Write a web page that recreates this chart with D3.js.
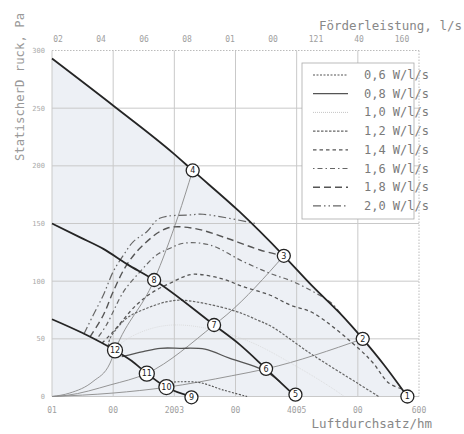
<!DOCTYPE html>
<html>
<head>
<meta charset="utf-8">
<script src="https://cdn.jsdelivr.net/npm/d3@7/dist/d3.min.js"></script>
<style>
  body { margin: 0; background: #fff; }
  svg { display: block; }
  text { font-family: "DejaVu Sans Mono", monospace; }
</style>
</head>
<body>
<svg id="chart" width="464" height="434"></svg>
<script>
// axis ticks and labels (labels as printed on the scan)
const flowTicks = [0, 100, 200, 300, 400, 500, 600];
const flowLabels = ["01", "00", "2003", "00", "4005", "00", "600"];
const pressureTicks = [0, 50, 100, 150, 200, 250, 300];
const pressureLabels = ["0", "50", "100", "150", "200", "250", "300"];
const lpsTicks = [0, 20, 40, 60, 80, 100, 120, 140, 160];
const lpsLabels = ["02", "04", "06", "08", "01", "00", "121", "40", "160"];

// fan curves [m3/h, Pa]
const fanHigh = [[0, 293], [103, 251], [198, 211], [230, 196], [307, 160], [379, 122],
  [427, 95], [471, 72], [508, 50], [542, 28], [581, 0]];
const fanMid = [[0, 150], [46, 138], [84, 128], [122, 115], [167, 101], [265, 62],
  [307, 45], [350, 24], [398, 0]];
const fanLow = [[0, 67], [50, 55], [103, 40], [130, 31], [155, 20], [187, 8], [228, 0]];

// system curves
const sys1 = [[0, 0], [29, 3], [67, 13], [95, 29], [103, 40], [167, 101], [206, 156], [230, 196]];
const sys2 = [[0, 0], [24, 1], [95, 10], [155, 20], [265, 62], [286, 71], [379, 122]];
const sys3 = [[0, 0], [100, 3], [187, 8], [294, 18], [350, 24], [508, 50]];

// specific fan power lines, W/l/s
const sfp06 = [[188, 12], [209, 12.8], [242, 12], [280, 5.6], [319, 0]];
const sfp08 = [[114, 34.5], [149, 38.9], [177, 41.8], [209, 41.8], [250, 41], [291, 33], [345, 23], [373, 12.8]];
const sfp10 = [[100, 41], [130, 52], [170, 60], [210, 62], [270, 57], [330, 46], [400, 26], [450, 10], [478, 0]];
const sfp12 = [[92, 43.8], [95, 50.5], [122, 67.8], [155, 76.5], [188, 82.2], [215, 83.4], [294, 75],
  [335, 66.5], [360, 60.3], [422, 37.5], [501, 11], [534, 0]];
const sfp14 = [[82, 46.4], [100, 56.2], [138, 79.4], [166, 90.9], [193, 98.2], [214, 103.5], [231, 106],
  [275, 102.5], [313, 95.2], [356, 88], [389, 79.4], [427, 72.4], [504, 40.3], [525, 29], [550, 12], [572, 6.5]];
const sfp16 = [[72, 49], [89, 62], [117, 90.9], [144, 108.2], [171, 122.7], [193, 128.5], [215, 132.9],
  [258, 131.4], [313, 116.9], [356, 106.9], [400, 98.2], [458, 80.5], [471, 72.2]];
const sfp18 = [[62, 51.6], [84, 70.7], [100, 90.9], [122, 114], [149, 131.4], [188, 145.9], [231, 145.9],
  [286, 137.2], [340, 127], [372, 122.7]];
const sfp20 = [[52, 54], [67.5, 70.7], [84, 88], [100, 108.2], [117, 122.7], [133, 134.3], [155, 142.9],
  [176, 154.5], [226, 157.4], [247, 158], [333, 150]];

// operating points
const pointIds = [1, 2, 3, 4, 5, 6, 7, 8, 9, 10, 11, 12];
const pointFlow = [581, 508, 379, 230, 398, 350, 265, 167, 228, 187, 155, 103];
const pointPressure = [0, 50, 122, 196, 1.6, 24, 62, 101, -0.7, 8.2, 19.8, 40];

const legendLabels = ["0,6 W/l/s", "0,8 W/l/s", "1,0 W/l/s", "1,2 W/l/s",
  "1,4 W/l/s", "1,6 W/l/s", "1,8 W/l/s", "2,0 W/l/s"];
const sfpSeries = [sfp06, sfp08, sfp10, sfp12, sfp14, sfp16, sfp18, sfp20];

// line styles per legend entry
const sfpStyle = [
  { dash: "2,1.5", color: "#555", w: 1.1 },
  { dash: null, color: "#555", w: 1.3 },
  { dash: "1,1", color: "#d4d4d4", w: 0.7 },
  { dash: "2.5,1.5", color: "#666", w: 1.2 },
  { dash: "3.5,3", color: "#555", w: 1.3 },
  { dash: "1.5,3,5,3", color: "#666", w: 1.2 },
  { dash: "7,4", color: "#555", w: 1.4 },
  { dash: "8,3,1.5,3,1.5,3", color: "#666", w: 1.2 }
];

const svg = d3.select("#chart");
const x = d3.scaleLinear().domain([0, 600]).range([52, 419]);
const y = d3.scaleLinear().domain([0, 300]).range([396.5, 50.5]);
const xTop = d3.scaleLinear().domain([0, 160]).range([58, 402]);

svg.append("defs").append("clipPath").attr("id", "plot")
  .append("rect").attr("x", 52).attr("y", 50.5).attr("width", 367).attr("height", 346);

// shaded working range
svg.append("path")
  .datum(fanHigh)
  .attr("clip-path", "url(#plot)")
  .attr("fill", "#edf0f5")
  .attr("d", d3.area().x(d => x(d[0])).y0(y(0)).y1(d => y(d[1])).curve(d3.curveMonotoneX));

// grid
svg.append("g").selectAll("line").data(flowTicks.slice(0, -1)).join("line")
  .attr("x1", d => x(d)).attr("x2", d => x(d)).attr("y1", y(300)).attr("y2", y(0))
  .attr("stroke", "#c9c9c9").attr("stroke-width", 1);
svg.append("g").selectAll("line").data(pressureTicks.slice(0, -1)).join("line")
  .attr("x1", x(0)).attr("x2", x(600)).attr("y1", d => y(d)).attr("y2", d => y(d))
  .attr("stroke", "#c9c9c9").attr("stroke-width", 1);

const line = d3.line().x(d => x(d[0])).y(d => y(d[1]));

// system curves
[sys1, sys2, sys3].forEach(s => {
  svg.append("path").datum(s)
    .attr("fill", "none").attr("stroke", "#8a8a8a").attr("stroke-width", 0.9)
    .attr("d", line.curve(d3.curveMonotoneX));
});

// SFP lines
sfpSeries.forEach((s, i) => {
  const st = sfpStyle[i];
  svg.append("path").datum(s)
    .attr("fill", "none").attr("stroke", st.color).attr("stroke-width", st.w)
    .attr("stroke-dasharray", st.dash)
    .attr("d", line.curve(d3.curveCatmullRom.alpha(0.5)));
});

// fan curves
[fanHigh, fanMid, fanLow].forEach(s => {
  svg.append("path").datum(s)
    .attr("fill", "none").attr("stroke", "#252525").attr("stroke-width", 1.8)
    .attr("d", line.curve(d3.curveMonotoneX));
});

// operating points
const pts = svg.append("g").selectAll("g").data(pointIds).join("g")
  .attr("transform", (d, i) => `translate(${x(pointFlow[i])},${y(pointPressure[i])})`);
pts.append("circle").attr("r", d => d > 9 ? 7.5 : 6.5)
  .attr("fill", "#fff").attr("stroke", "#222").attr("stroke-width", 1.3);
pts.append("text").attr("text-anchor", "middle").attr("dy", "0.35em")
  .style("font-family", "'DejaVu Sans', sans-serif").style("font-size", "8px")
  .attr("fill", "#222").text(d => d);

// legend
const lg = svg.append("g");
lg.append("rect").attr("x", 302).attr("y", 63).attr("width", 112).attr("height", 156)
  .attr("fill", "#fff").attr("stroke", "#aaa").attr("stroke-width", 0.8);
legendLabels.forEach((lab, i) => {
  const cy = 75 + i * 18.7;
  const st = sfpStyle[i];
  lg.append("line").attr("x1", 313).attr("x2", 348).attr("y1", cy).attr("y2", cy)
    .attr("stroke", i === 2 ? "#aaa" : st.color).attr("stroke-width", st.w)
    .attr("stroke-dasharray", st.dash);
  lg.append("text").attr("x", 429).attr("y", cy + 4).attr("text-anchor", "end")
    .style("font-size", "12px").attr("fill", "#7a7a7a").text(lab);
});

// frame top/right dotted
svg.append("line").attr("x1", x(0)).attr("x2", x(600)).attr("y1", y(300)).attr("y2", y(300))
  .attr("stroke", "#bbb").attr("stroke-dasharray", "1.5,1.5");
svg.append("line").attr("x1", x(600)).attr("x2", x(600)).attr("y1", y(300)).attr("y2", y(0))
  .attr("stroke", "#bbb").attr("stroke-dasharray", "1.5,1.5");

// tick labels
svg.append("g").selectAll("text").data(flowTicks).join("text")
  .attr("x", d => x(d)).attr("y", 413).attr("text-anchor", "middle")
  .style("font-size", "8px").attr("fill", "#a0a0a0").text((d, i) => flowLabels[i]);
svg.append("g").selectAll("text").data(pressureTicks).join("text")
  .attr("x", 45).attr("y", d => y(d) + 2.5).attr("text-anchor", "end")
  .style("font-size", "7px").attr("fill", "#aaa").text((d, i) => pressureLabels[i]);
svg.append("g").selectAll("text").data(lpsTicks).join("text")
  .attr("x", d => xTop(d)).attr("y", 42).attr("text-anchor", "middle")
  .style("font-size", "8px").attr("fill", "#a0a0a0").text((d, i) => lpsLabels[i]);

// titles
svg.append("text").attr("x", 462).attr("y", 30).attr("text-anchor", "end")
  .style("font-size", "12.5px").attr("fill", "#888").text("Förderleistung, l/s");
svg.append("text").attr("x", 432).attr("y", 428).attr("text-anchor", "end")
  .style("font-size", "12.5px").attr("fill", "#888").text("Luftdurchsatz/hm");
svg.append("text").attr("transform", "translate(24,87) rotate(-90)").attr("text-anchor", "middle")
  .style("font-size", "12.3px").attr("fill", "#999").text("StatischerD ruck, Pa");
</script>
</body>
</html>
